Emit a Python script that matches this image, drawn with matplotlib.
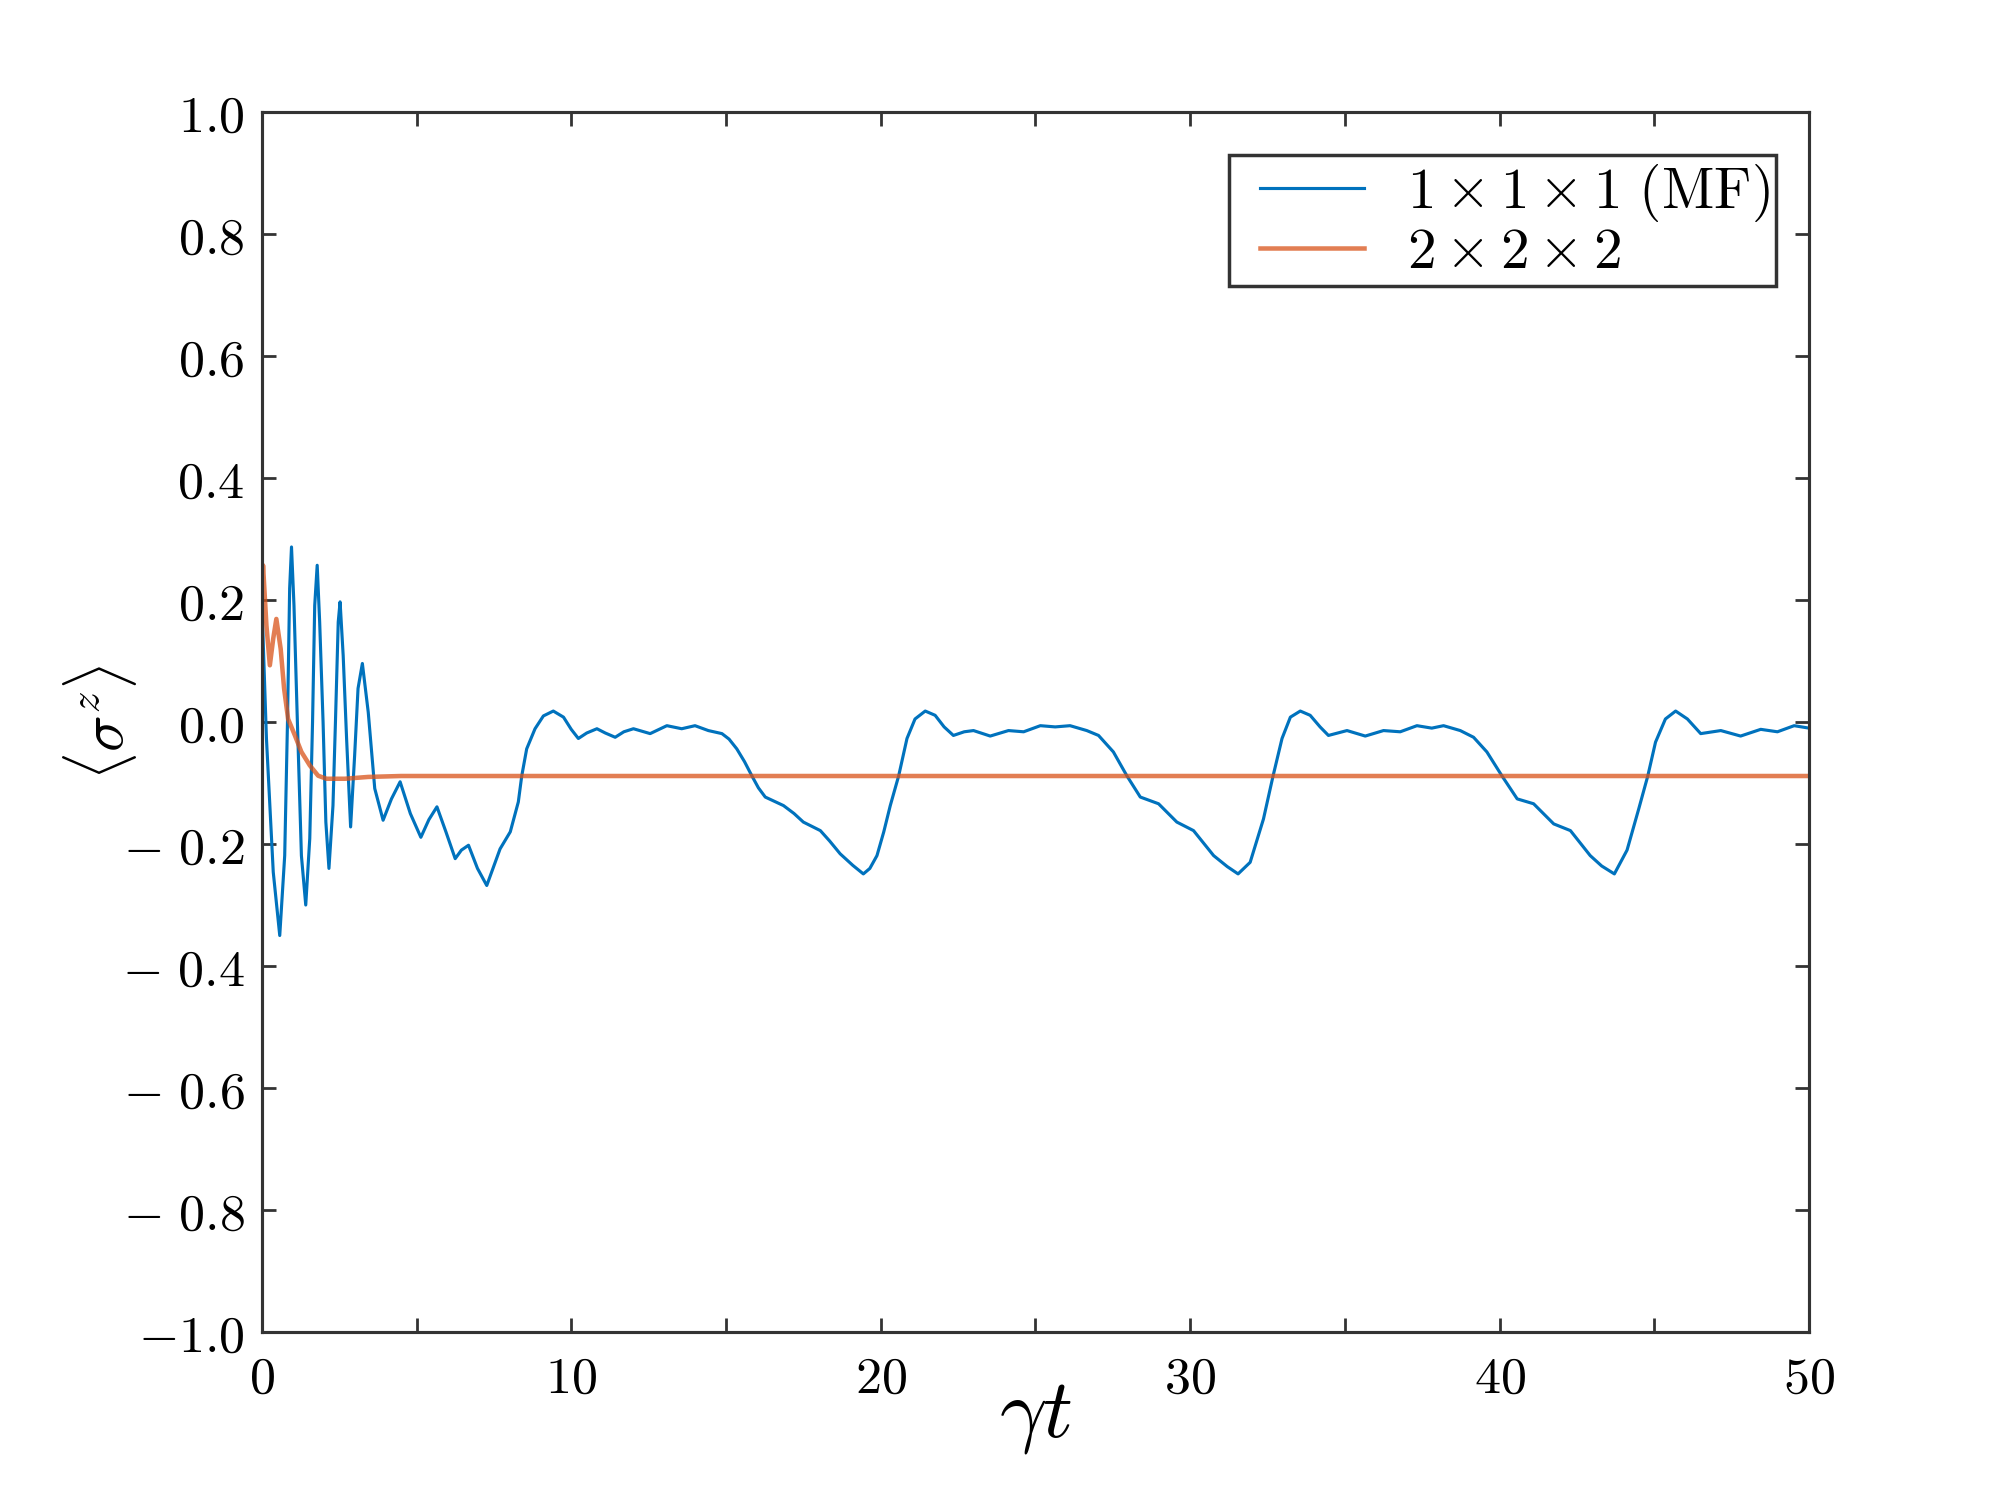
import matplotlib
matplotlib.use("Agg")
import matplotlib.pyplot as plt
from matplotlib.lines import Line2D
from matplotlib.legend_handler import HandlerLine2D
from matplotlib.ticker import MultipleLocator, FixedLocator, FixedFormatter

plt.rcParams['mathtext.fontset'] = 'cm'
plt.rcParams['font.family'] = 'serif'
plt.rcParams['font.serif'] = ['DejaVu Serif']

# Blue: 1x1x1 (MF)
t_mf = [0.0, 0.15, 0.37, 0.58, 0.74, 0.83, 0.90, 0.96, 1.04, 1.15, 1.28, 1.42, 1.55, 1.64, 1.71, 1.79,
        1.87, 1.98, 2.07, 2.17, 2.30, 2.38, 2.47, 2.53, 2.63, 2.74, 2.87, 3.00, 3.11, 3.25, 3.44, 3.65,
        3.92, 4.19, 4.47, 4.80, 5.14, 5.40, 5.66, 5.95, 6.25, 6.45, 6.68, 6.97,
        7.27, 7.70, 8.03, 8.29, 8.40, 8.56, 8.83, 9.10, 9.42, 9.75, 10.0, 10.23, 10.5, 10.83, 11.1,
        11.42, 11.7, 12.01, 12.55, 13.09, 13.57, 14.00, 14.43, 14.87, 15.1, 15.35, 15.6, 15.84, 16.05,
        16.27, 16.86, 17.2, 17.50, 18.05, 18.35, 18.69, 19.1, 19.44, 19.65, 19.88, 20.1, 20.31, 20.58,
        20.85, 21.11, 21.44, 21.76, 22.05, 22.35, 22.7, 23.0, 23.54, 24.13, 24.62, 25.16, 25.64, 26.12,
        26.66, 27.04, 27.52, 27.96, 28.39, 28.98, 29.57, 30.11, 30.76, 31.2, 31.55, 31.94, 32.37, 32.68,
        32.97, 33.24, 33.56, 33.88, 34.2, 34.47, 35.07, 35.66, 36.25, 36.79, 37.33, 37.81, 38.19, 38.73,
        39.16, 39.59, 40.08, 40.57, 41.10, 41.75, 42.29, 42.93, 43.3, 43.71, 44.12, 44.5, 44.79, 45.04,
        45.36, 45.69, 46.07, 46.50, 47.15, 47.79, 48.44, 48.98, 49.52, 50.0]
y_mf = [0.20, -0.027, -0.246, -0.35, -0.219, 0.0, 0.219, 0.287, 0.191, 0.0, -0.219, -0.30, -0.191, 0.0, 0.191, 0.257,
        0.164, 0.0, -0.164, -0.24, -0.137, 0.0, 0.164, 0.197, 0.109, -0.027, -0.172, -0.055, 0.055, 0.096, 0.016, -0.109,
        -0.161, -0.126, -0.098, -0.15, -0.189, -0.16, -0.139, -0.18, -0.224, -0.21, -0.202, -0.24,
        -0.268, -0.208, -0.180, -0.131, -0.0885, -0.044, -0.011, 0.010, 0.018, 0.008, -0.012, -0.027, -0.018, -0.011, -0.018,
        -0.025, -0.016, -0.011, -0.019, -0.006, -0.011, -0.006, -0.014, -0.019, -0.028, -0.044, -0.065, -0.0885, -0.108,
        -0.123, -0.137, -0.150, -0.164, -0.178, -0.195, -0.216, -0.235, -0.249, -0.240, -0.219, -0.180, -0.137, -0.0885,
        -0.027, 0.005, 0.018, 0.011, -0.008, -0.022, -0.016, -0.014, -0.023, -0.014, -0.016, -0.006, -0.008, -0.006,
        -0.014, -0.022, -0.049, -0.0885, -0.123, -0.134, -0.164, -0.178, -0.219, -0.237, -0.249, -0.230, -0.159, -0.0885,
        -0.027, 0.008, 0.018, 0.011, -0.008, -0.022, -0.014, -0.023, -0.014, -0.016, -0.006, -0.010, -0.006, -0.014,
        -0.025, -0.049, -0.0885, -0.126, -0.134, -0.167, -0.178, -0.219, -0.236, -0.249, -0.210, -0.142, -0.0885, -0.033,
        0.005, 0.018, 0.005, -0.019, -0.014, -0.023, -0.012, -0.016, -0.006, -0.010]

# Orange: 2x2x2
t_222 = [0.0, 0.04, 0.15, 0.26, 0.37, 0.47, 0.61, 0.72, 0.85, 1.07, 1.28, 1.55, 1.82, 2.09,
         2.68, 3.44, 4.50, 50.0]
y_222 = [0.20, 0.257, 0.158, 0.093, 0.137, 0.169, 0.120, 0.055, 0.005, -0.022, -0.049, -0.071,
         -0.088, -0.093, -0.093, -0.090, -0.0885, -0.0885]

labels = [r'$1\times1\times1\ \mathrm{(MF)}\ $', r'$2\times2\times2$']

x_ticks = [0, 10, 20, 30, 40, 50]
x_ticklabels = ['$0$', '$10$', '$20$', '$30$', '$40$', '$50$']
y_ticks = [1.0, 0.8, 0.6, 0.4, 0.2, 0.0, -0.2, -0.4, -0.6, -0.8, -1.0]
y_ticklabels = ['$1.0$', '$0.8$', '$0.6$', '$0.4$', '$0.2$', '$0.0$',
                r'$-\ 0.2$', r'$-\ 0.4$', r'$-\ 0.6$', r'$-\ 0.8$', r'$-1.0$']

fig = plt.figure(figsize=(8, 6), dpi=250)
ax = fig.add_axes([0.1309, 0.112, 0.9045 - 0.1309, 0.9253 - 0.112])

ax.plot(t_mf, y_mf, color='#0072BD', lw=0.9, label=labels[0])
ax.plot(t_222, y_222, color='#D95319', lw=1.3, alpha=0.75, label=labels[1])

ax.set_xlim(0, 50)
ax.set_ylim(-1.0, 1.0)
ax.xaxis.set_major_locator(FixedLocator(x_ticks))
ax.xaxis.set_major_formatter(FixedFormatter(x_ticklabels))
ax.xaxis.set_minor_locator(MultipleLocator(5))
ax.yaxis.set_major_locator(FixedLocator(y_ticks))
ax.yaxis.set_major_formatter(FixedFormatter(y_ticklabels))

for s in ax.spines.values():
    s.set_linewidth(0.9)
    s.set_color('#333333')
ax.tick_params(which='both', direction='in', top=True, right=True, length=4, width=0.8,
               color='#333333', labelsize=15)
ax.tick_params(axis='x', pad=6)
ax.tick_params(axis='y', pad=5)

ax.set_xlabel(r'$\gamma t$', fontsize=24, labelpad=-8)
ax.set_ylabel(r'$\langle\sigma^z\rangle$', fontsize=17.5, labelpad=-5)

leg = ax.legend(loc='upper right', bbox_to_anchor=(0.9787, 0.965), borderaxespad=0,
                fontsize=16.5, frameon=True, fancybox=False, edgecolor='black',
                handlelength=2.23, handletextpad=0.74, borderpad=0.12, labelspacing=0.0,
                handler_map={Line2D: HandlerLine2D(xpad=0.41)})
leg.get_frame().set_linewidth(1.0)

fig.savefig('out.png', dpi=250)
